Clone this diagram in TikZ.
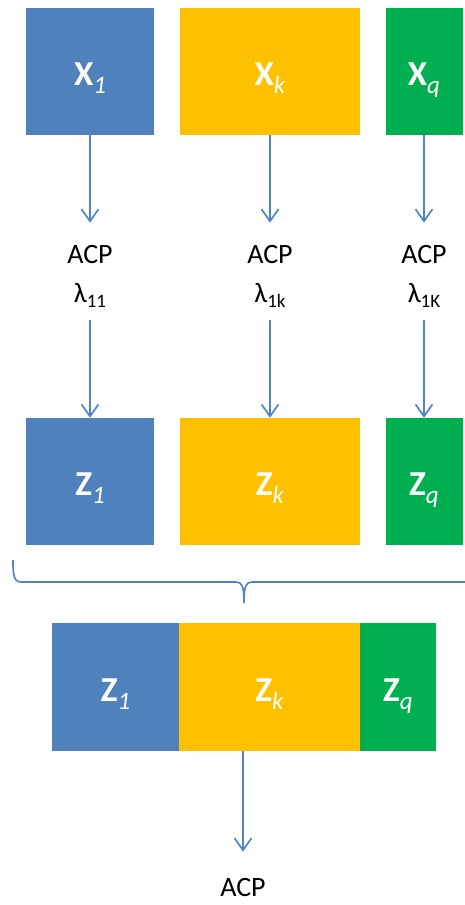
\documentclass[tikz,border=0pt]{standalone}
\usepackage{fontspec}
\setmainfont{Carlito}
\usetikzlibrary{arrows.meta}
\definecolor{cblue}{RGB}{79,129,189}
\definecolor{cyellow}{RGB}{255,192,0}
\definecolor{cgreen}{RGB}{0,176,80}
\definecolor{cline}{RGB}{80,132,200}
% block label: bold letter with a lowered italic index
\newcommand{\blocklab}[2]{{\fontsize{35}{35}\fontseries{b}\selectfont #1}\raisebox{-8pt}{\fontsize{25}{25}\selectfont\itshape #2}}
\newcommand{\lamlab}[1]{λ\raisebox{-5pt}{\fontsize{19}{19}\selectfont #1}}
\tikzset{
  blockbox/.style={fill=#1, draw=none, inner sep=0pt},
  blocktext/.style={inner sep=0pt, anchor=base, text=white},
  arr/.style={draw=cline, line width=1.7pt, -{Straight Barb[length=12pt,width=17pt,line width=1.7pt]}},
  plain/.style={draw=cline, line width=1.7pt},
  txt/.style={inner sep=0pt, anchor=base, font=\fontsize{28}{28}\selectfont, text=black}
}
\begin{document}
\begin{tikzpicture}[x=1pt,y=-1pt]
\useasboundingbox (0,0) rectangle (465,905);

% input blocks
\node[blockbox=cblue,   minimum width=128pt, minimum height=127pt] (x1) at (90,71)  {};
\node[blockbox=cyellow, minimum width=180pt, minimum height=127pt] (xk) at (270,71) {};
\node[blockbox=cgreen,  minimum width=77pt,  minimum height=127pt] (xq) at (424,71) {};
\node[blocktext] (x1t) at (90,85)  {\blocklab{X}{1}};
\node[blocktext] (xkt) at (270,85) {\blocklab{X}{k}};
\node[blocktext] (xqt) at (424,85) {\blocklab{X}{q}};

% per-block PCA labels
\node[txt] (acp1) at (90,263)  {ACP};
\node[txt] (acpk) at (270,263) {ACP};
\node[txt] (acpq) at (424,263) {ACP};
\node[txt] (lam1) at (90,302)  {\lamlab{11}};
\node[txt] (lamk) at (270,302) {\lamlab{1k}};
\node[txt] (lamq) at (424,302) {\lamlab{1K}};

% component blocks
\node[blockbox=cblue,   minimum width=128pt, minimum height=127pt] (z1) at (90,481.5)  {};
\node[blockbox=cyellow, minimum width=180pt, minimum height=127pt] (zk) at (270,481.5) {};
\node[blockbox=cgreen,  minimum width=77pt,  minimum height=127pt] (zq) at (424,481.5) {};
\node[blocktext] (z1t) at (90,495)  {\blocklab{Z}{1}};
\node[blocktext] (zkt) at (270,495) {\blocklab{Z}{k}};
\node[blocktext] (zqt) at (424,495) {\blocklab{Z}{q}};

% arrows through the PCA step
\foreach \a/\b in {x1/acp1, xk/acpk, xq/acpq}{
  \draw[arr] (\a.south) -- ([yshift=22pt]\b.north);
}
\foreach \b/\c in {lam1/z1, lamk/zk, lamq/zq}{
  \draw[arr] ([yshift=-13pt]\b.south) -- (\c.north);
}

% brace gathering the components
\coordinate (bl) at (13,560);
\coordinate (br) at (466,582);
\coordinate (bt) at (244,603);
\draw[plain, line join=round] (bl) .. controls (13,577) and (14,582) .. (22,582)
  -- (236,582) .. controls (242,582) and (244,586) .. (bt)
  (bt) .. controls (244,586) and (246,582) .. (252,582) -- (br);

% concatenated table
\node[blockbox=cblue,   minimum width=127pt, minimum height=128pt] (c1) at (115.5,687) {};
\node[blockbox=cyellow, minimum width=181pt, minimum height=128pt] (ck) at (269.5,687) {};
\node[blockbox=cgreen,  minimum width=76pt,  minimum height=128pt] (cq) at (398,687)   {};
\node[blocktext] (c1t) at (115.5,701) {\blocklab{Z}{1}};
\node[blocktext] (ckt) at (269.5,701) {\blocklab{Z}{k}};
\node[blocktext] (cqt) at (398,701)   {\blocklab{Z}{q}};

% global PCA
\node[txt] (acpg) at (243,896) {ACP};
\draw[arr] (ck.south -| acpg) -- ([yshift=26pt]acpg.north);
\end{tikzpicture}
\end{document}
